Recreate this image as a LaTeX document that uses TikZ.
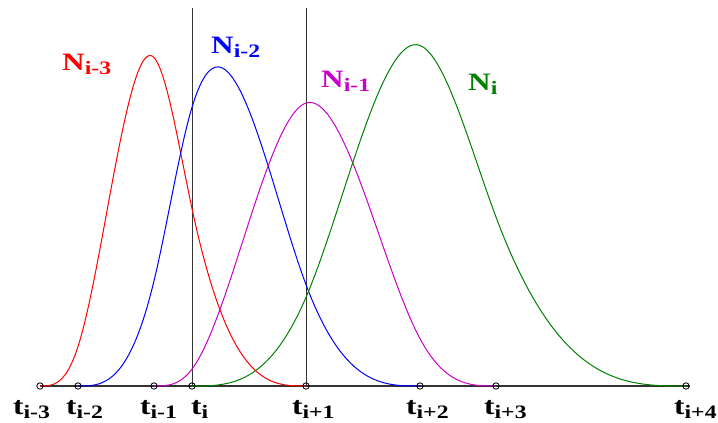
\documentclass[tikz,border=0pt]{standalone}
\usepackage{fontspec}
\newfontfamily\labfont[FakeStretch=1.25]{Liberation Serif}
\definecolor{cred}{RGB}{255,0,0}
\definecolor{cblue}{RGB}{0,0,255}
\definecolor{cmag}{RGB}{200,0,200}
\definecolor{cgreen}{RGB}{0,128,0}
\newcommand{\lbl}[2]{{\labfont\bfseries\fontsize{25}{25}\selectfont #1\raisebox{-4pt}{\fontsize{19}{19}\selectfont #2}}}
\begin{document}
\begin{tikzpicture}[x=1pt,y=-1pt,
  axisline/.style={draw=black!80,line width=1.2pt},
  vline/.style={draw=black!80,line width=1pt},
  knot/.style={draw=black,line width=0.8pt},
  curve/.style={line width=1pt,samples=70,variable=\s},
  lab/.style={anchor=base west,inner sep=0pt}]
\useasboundingbox (0,0) rectangle (718,423);
% knots: 40 + 38*{0,1,3,4,7,10,12,17}
\coordinate (k0) at (40,386);
\coordinate (k1) at (78,386);
\coordinate (k2) at (154,386);
\coordinate (k3) at (192,386);
\coordinate (k4) at (306,386);
\coordinate (k5) at (420,386);
\coordinate (k6) at (496,386);
\coordinate (k7) at (686,386);
\coordinate (aend) at (690,386);
\coordinate (v1) at (192,8);
\coordinate (v2) at (306,8);
\draw[axisline] (k0) -- (aend);
\draw[vline] (k3) -- (v1);
\draw[vline] (k4) -- (v2);
% cubic B-splines, x = 40 + 38 u, y = 386 - 473 N
% N_{i-3}: knots 0,1,3,4,7
\draw[curve,cred]
  plot[domain=0:3] ({40+38*\s},{386-473*(\s^3/12-7*max(\s-1,0)^3/36)})
  -- plot[domain=3:7] ({40+38*\s},{386-473*((7-\s)^3/72-7*max(4-\s,0)^3/36)});
% N_{i-2}: knots 1,3,4,7,10 (s = u-1)
\draw[curve,cblue]
  plot[domain=0:3] ({78+38*\s},{386-473*(\s^3/36-9*max(\s-2,0)^3/56)})
  -- plot[domain=3:9] ({78+38*\s},{386-473*((9-\s)^3/126-max(6-\s,0)^3/24)});
% N_{i-1}: knots 3,4,7,10,12 (s = u-3)
\draw[curve,cmag]
  plot[domain=0:4] ({154+38*\s},{386-473*(\s^3/28-max(\s-1,0)^3/16)})
  -- plot[domain=4:9] ({154+38*\s},{386-473*((9-\s)^3/80-max(7-\s,0)^3/28)});
% N_i: knots 4,7,10,12,17 (s = u-4)
\draw[curve,cgreen]
  plot[domain=0:6] ({192+38*\s},{386-473*(\s^3/144-13*max(\s-3,0)^3/450)})
  -- plot[domain=6:13] ({192+38*\s},{386-473*((13-\s)^3/350-13*max(8-\s,0)^3/400)});
% knot circles
\foreach \k in {k0,k1,k2,k3,k4,k5,k6,k7} \draw[knot] (\k) circle (3.2);
% curve labels
\node[lab,text=cred] (n3) at (62,70) {\lbl{N}{i-3}};
\node[lab,text=cblue] (n2) at (211,53) {\lbl{N}{i-2}};
\node[lab,text=cmag] (n1) at (321,87) {\lbl{N}{i-1}};
\node[lab,text=cgreen] (n0) at (468,90) {\lbl{N}{i}};
% knot labels
\node[lab] (t0) at (13,414) {\lbl{t}{i-3}};
\node[lab] (t1) at (66,414) {\lbl{t}{i-2}};
\node[lab] (t2) at (140,414) {\lbl{t}{i-1}};
\node[lab] (t3) at (191,414) {\lbl{t}{i}};
\node[lab] (t4) at (292,414) {\lbl{t}{i+1}};
\node[lab] (t5) at (406,414) {\lbl{t}{i+2}};
\node[lab] (t6) at (484,414) {\lbl{t}{i+3}};
\node[lab] (t7) at (674,414) {\lbl{t}{i+4}};
\end{tikzpicture}
\end{document}
